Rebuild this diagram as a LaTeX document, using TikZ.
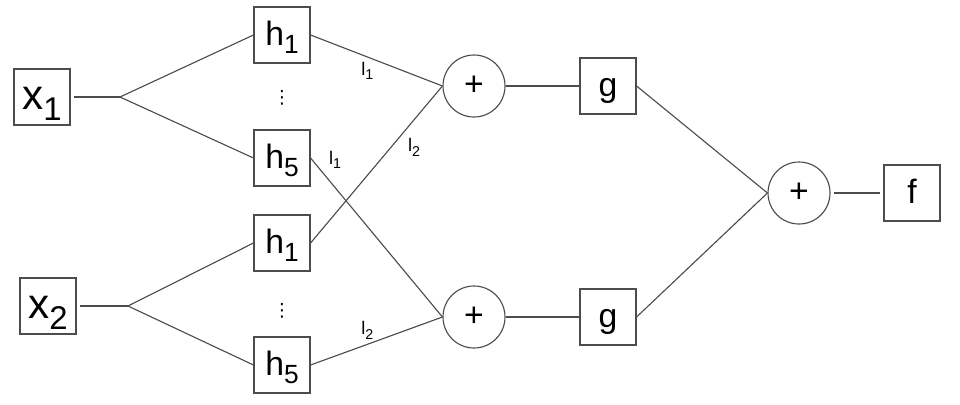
\documentclass[tikz,border=0pt]{standalone}
\usepackage{fontspec}
\setmainfont{Liberation Sans}
\newfontfamily\symfont{DejaVu Sans}
\newcommand{\sub}[1]{\raisebox{-0.25em}{\scalebox{0.78}{#1}}}

\begin{document}
\begin{tikzpicture}[thick,
    box/.style={draw=black!70, rectangle, minimum size=1.4cm, inner sep=0pt, text height=0.5cm, text depth=0cm, font=\fontsize{24}{24}\selectfont},
    inbox/.style={box, text height=0.625cm, font=\fontsize{30}{30}\selectfont},
    sum/.style={draw=black!70, circle, minimum size=1.55cm, inner sep=0pt, font=\fontsize{24}{24}\selectfont},
    more/.style={font=\symfont\fontsize{13}{13}\selectfont},
    wire/.style={draw=black!70},
    gap/.style={shorten <=2.5pt},
    lbl/.style={font=\fontsize{13}{13}\selectfont}]
    \useasboundingbox (0,0) rectangle (24,-10.1);

    \node (x1) [inbox] at (1.05,-2.425) {x\sub{1}};
    \node (x2) [inbox] at (1.2,-7.65) {x\sub{2}};
    \coordinate (splita) at (3.0,-2.425);
    \coordinate (splitb) at (3.2,-7.65);

    \node (h1a) [box] at (7.05,-0.875) {h\sub{1}};
    \node (dotsa) [more, below of=h1a, node distance=1.575cm] {⋮};
    \node (h5a) [box, below of=h1a, node distance=3.075cm] {h\sub{5}};
    \node (h1b) [box, below of=h5a, node distance=2.125cm] {h\sub{1}};
    \node (dotsb) [more, below of=h1b, node distance=1.7cm] {⋮};
    \node (h5b) [box, below of=h1b, node distance=3.05cm] {h\sub{5}};

    \node (suma) [sum] at (11.85,-2.15) {+};
    \node (sumb) [sum] at (11.85,-7.925) {+};
    \node (ga) [box, right of=suma, node distance=3.35cm] {g};
    \node (gb) [box, right of=sumb, node distance=3.35cm] {g};
    \node (sumc) [sum] at (19.975,-4.825) {+};
    \node (f) [box, right of=sumc, node distance=2.825cm] {f};

    \draw[wire, gap] (x1.east) -- (splita);
    \draw[wire] (splita) -- (h1a.west);
    \draw[wire] (splita) -- (h5a.west);
    \draw[wire, gap] (x2.east) -- (splitb);
    \draw[wire] (splitb) -- (h1b.west);
    \draw[wire] (splitb) -- (h5b.west);

    \draw[wire] (h1a.east) -- node[lbl, below, pos=0.43] {l\sub{1}} (suma.west);
    \draw[wire] (h1b.east) -- node[lbl, below right=0pt, pos=0.7] {l\sub{2}} (suma.west);
    \draw[wire] (h5a.east) -- node[lbl, above right=0pt, pos=0.1] {l\sub{1}} (sumb.west);
    \draw[wire] (h5b.east) -- node[lbl, above, pos=0.43] {l\sub{2}} (sumb.west);

    \draw[wire] (suma) -- (ga);
    \draw[wire] (sumb) -- (gb);
    \draw[wire] (ga.east) -- (sumc.west);
    \draw[wire] (gb.east) -- (sumc.west);
    \draw[wire, gap, shorten >=2.5pt] (sumc) -- (f);
\end{tikzpicture}
\end{document}
